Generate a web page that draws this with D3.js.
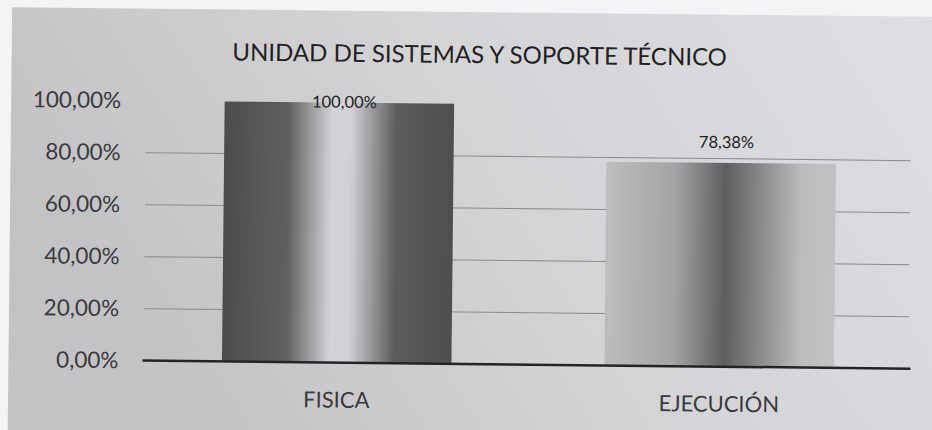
<!DOCTYPE html>
<html lang="es">
<head>
<meta charset="UTF-8">
<title>Unidad de Sistemas y Soporte Técnico</title>
<script src="https://d3js.org/d3.v7.min.js"></script>
<style>
    body { margin: 0; background: #f4f4f7; font-family: Lato, "Open Sans", sans-serif; }
    svg { display: block; }
    .tick-label { font-size: 22.5px; fill: #3a3a3c; }
    .cat-label { font-size: 22px; fill: #3a3a3c; }
    .value-label { font-size: 16.5px; fill: #222; }
    .title { font-size: 24px; fill: #222; }
</style>
</head>
<body>
<svg width="932" height="430"></svg>
<script>
    // chart data
    const categories = ["FISICA", "EJECUCIÓN"];
    const values = [100.00, 78.38];
    const yTicks = [0, 20, 40, 60, 80, 100];
    const title = "UNIDAD DE SISTEMAS Y SOPORTE TÉCNICO";

    const svg = d3.select("svg");
    const defs = svg.append("defs");

    // paper background gradient
    const bg = defs.append("linearGradient").attr("id", "bg")
        .attr("x1", "0%").attr("x2", "100%").attr("y1", "30%").attr("y2", "0%");
    bg.append("stop").attr("offset", "0%").attr("stop-color", "#c3c3c5");
    bg.append("stop").attr("offset", "45%").attr("stop-color", "#d4d4d7");
    bg.append("stop").attr("offset", "100%").attr("stop-color", "#dfdfe3");

    // bar gradients (scan shows dark-edge and light-edge cylinders)
    const barStops = [
        [[0, "#4c4c4e"], [0.28, "#606062"], [0.47, "#d4d4d8"], [0.55, "#d2d2d6"], [0.75, "#5c5c5e"], [1, "#4e4e50"]],
        [[0, "#bdbdc0"], [0.3, "#a4a4a7"], [0.52, "#5e5e60"], [0.62, "#7a7a7c"], [0.85, "#bcbcbf"], [1, "#c2c2c5"]]
    ];
    barStops.forEach((stops, i) => {
        const g = defs.append("linearGradient").attr("id", "bar" + i)
            .attr("x1", "0%").attr("x2", "100%").attr("y1", "0%").attr("y2", "0%");
        stops.forEach(s => g.append("stop").attr("offset", s[0]).attr("stop-color", s[1]));
    });

    // whole scan is slightly tilted
    const root = svg.append("g").attr("transform", "rotate(0.6, 466, 215)");

    root.append("rect")
        .attr("x", 10).attr("y", 12)
        .attr("width", 940).attr("height", 430)
        .attr("fill", "url(#bg)");

    const margin = {left: 147, right: 20, top: 104, bottom: 66};
    const width = 932 - margin.left - margin.right;
    const height = 430 - margin.top - margin.bottom;

    const x = d3.scaleBand()
        .domain(categories)
        .range([margin.left, margin.left + width])
        .paddingInner(0.4)
        .paddingOuter(0.2);

    const y = d3.scaleLinear()
        .domain([0, 100])
        .range([margin.top + 260, margin.top]);

    // grid lines
    root.append("g")
        .selectAll("line")
        .data(yTicks.filter(t => t > 0 && t < 100))
        .join("line")
        .attr("x1", margin.left - 2).attr("x2", margin.left + width - 2)
        .attr("y1", d => y(d)).attr("y2", d => y(d))
        .attr("stroke", "#8a8a8c")
        .attr("stroke-width", 1);

    // y axis labels
    const yAxis = d3.axisLeft(y)
        .tickValues(yTicks)
        .tickSize(0)
        .tickPadding(27)
        .tickFormat(d => d3.format(".2f")(d).replace(".", ",") + "%");

    const yg = root.append("g")
        .attr("transform", `translate(${margin.left},0)`)
        .call(yAxis);
    yg.select(".domain").remove();
    yg.selectAll("text").attr("class", "tick-label").attr("fill", null);
    yg.attr("font-family", null).attr("font-size", null);

    // bars
    root.append("g")
        .selectAll("rect")
        .data(values)
        .join("rect")
        .attr("x", (d, i) => x(categories[i]))
        .attr("y", d => y(d))
        .attr("width", x.bandwidth())
        .attr("height", d => y(0) - y(d))
        .attr("fill", (d, i) => `url(#bar${i})`);

    // baseline
    root.append("line")
        .attr("x1", margin.left - 3).attr("x2", margin.left + width)
        .attr("y1", y(0)).attr("y2", y(0))
        .attr("stroke", "#242426")
        .attr("stroke-width", 2.5);

    // value labels
    root.append("g")
        .selectAll("text")
        .data(values)
        .join("text")
        .attr("class", "value-label")
        .attr("text-anchor", "middle")
        .attr("x", (d, i) => x(categories[i]) + x.bandwidth() / 2 + 5)
        .attr("y", d => Math.max(y(d) - 15, y(100) + 5))
        .text(d => d3.format(".2f")(d).replace(".", ",") + "%");

    // category labels
    root.append("g")
        .selectAll("text")
        .data(categories)
        .join("text")
        .attr("class", "cat-label")
        .attr("text-anchor", "middle")
        .attr("x", d => x(d) + x.bandwidth() / 2)
        .attr("y", y(0) + 45)
        .text(d => d);

    // title
    root.append("text")
        .attr("class", "title")
        .attr("text-anchor", "middle")
        .attr("x", 478)
        .attr("y", 63)
        .text(title);
</script>
</body>
</html>
